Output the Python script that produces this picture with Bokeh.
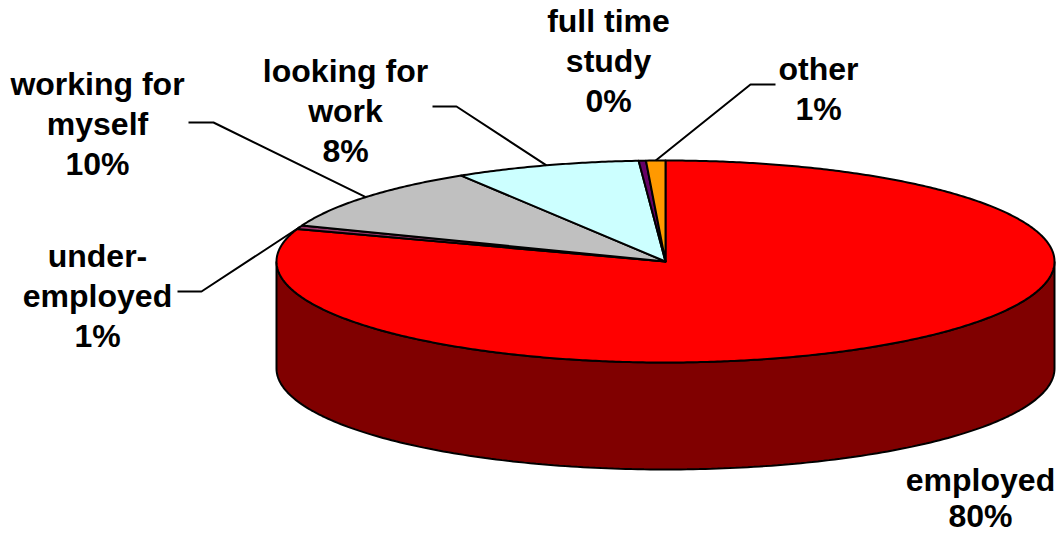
import numpy as np
from bokeh.plotting import figure
from bokeh.models import Range1d
from bokeh.embed import file_html
from bokeh.resources import INLINE
from bokeh.core.properties import value

# ---- data ----
categories = ["employed", "under-employed", "working for myself",
              "looking for work", "full time study", "other"]
shares = [80.2, 0.6, 10.4, 7.7, 0.3, 0.8]
label_names = [["employed"], ["under-", "employed"], ["working for", "myself"],
               ["looking for", "work"], ["full time", "study"], ["other"]]
top_colors = ["#FF0000", "#993366", "#C0C0C0", "#CCFFFF", "#660066", "#FF9900"]
side_colors = ["#800000", "#4C1A33", "#606060", "#668080", "#330033", "#804C00"]

# ---- layout (page pixel coordinates) ----
W, H = 1060, 537
cx, cy, ra, rb, depth = 665, 261, 389, 101, 107
label_pos = [(980, 479), (97, 255), (97, 83), (345, 70), (608, 20), (818, 68)]
line_gaps = [36, 40, 40, 40, 40, 40]
leaders = [None, ((201, 291), 177), ((213, 122), 188), ((456, 106), 432), None, ((750, 84), 775)]

p = figure(width=W, height=H, output_backend="svg", toolbar_location=None,
           x_range=Range1d(0, W), y_range=Range1d(H, 0),
           min_border=0, outline_line_color=None)
p.axis.visible = False
p.grid.visible = False
p.background_fill_color = "white"
p.border_fill_color = "white"

vals = np.array(shares, dtype=float)
fr = vals / vals.sum()
ends = np.cumsum(fr) * 360.0
starts = ends - fr * 360.0


def ex(t):
    return cx + ra * np.sin(np.radians(t))


def ey(t):
    return cy - rb * np.cos(np.radians(t))


# side faces (visible front half: 90..270 deg)
sx, sy, sc = [], [], []
for s, e, c in zip(starts, ends, side_colors):
    a0, a1 = max(s, 90.0), min(e, 270.0)
    if a1 <= a0:
        continue
    t = np.linspace(a0, a1, 200)
    xs = np.concatenate([ex(t), ex(t[::-1])])
    ys = np.concatenate([ey(t), ey(t[::-1]) + depth])
    sx.append(list(xs)); sy.append(list(ys)); sc.append(c)
p.patches(sx, sy, fill_color=sc, line_color="black", line_width=2)

# top faces
tx, ty = [], []
for s, e in zip(starts, ends):
    n = max(int((e - s) * 2) + 2, 3)
    t = np.linspace(s, e, n)
    tx.append([cx] + list(ex(t)))
    ty.append([cy] + list(ey(t)))
p.patches(tx, ty, fill_color=top_colors, line_color="black", line_width=2,
          line_join="round")

# leader lines
mids = (starts + ends) / 2.0
for m, ld in zip(mids, leaders):
    if ld is None:
        continue
    (bx, by), endx = ld
    p.line([ex(m), bx, endx], [ey(m), by, by], line_color="black", line_width=2)

# labels
lx, ly, lt = [], [], []
for names, f, (x0, y0), g in zip(label_names, fr, label_pos, line_gaps):
    lines = names + [f"{int(round(f * 100))}%"]
    for i, s in enumerate(lines):
        lx.append(x0); ly.append(y0 + i * g); lt.append(s)
p.text(lx, ly, text=lt, text_align="center", text_baseline="middle",
       text_font=value("Liberation Sans"), text_font_style="bold",
       text_font_size="32px", text_color="black")

open("out.html", "w").write(file_html(p, INLINE))
